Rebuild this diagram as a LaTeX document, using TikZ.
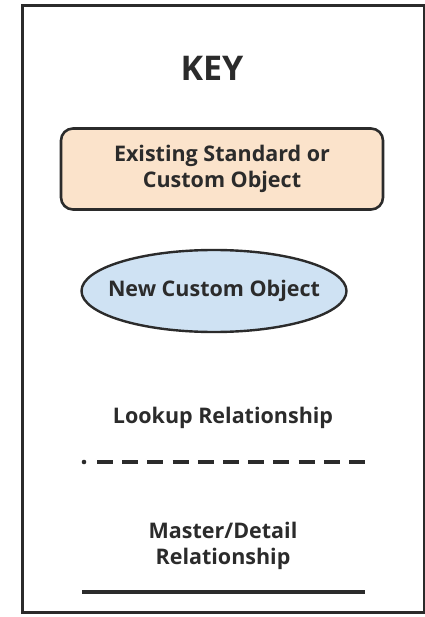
\documentclass[tikz,border=0pt]{standalone}
\usepackage{fontspec}
\setmainfont{Open Sans}
\usetikzlibrary{shapes.geometric}
\definecolor{peach}{HTML}{FBE3CB}
\definecolor{skyblue}{HTML}{CFE2F3}
\definecolor{ink}{HTML}{2B2B2B}

\begin{document}
\begin{tikzpicture}[x=1pt, y=-1pt,
    keytext/.style = {font=\bfseries\fontsize{21.5}{26.5}\selectfont, text=ink, align=center},
    existing/.style = {draw=ink, line width=2.6pt, rounded corners=12pt, fill=peach, minimum width=322pt, minimum height=81pt},
    newobj/.style = {draw=ink, line width=2.4pt, ellipse, fill=skyblue, minimum width=265pt, minimum height=82pt, inner xsep=-18pt, inner ysep=0pt}]
    \useasboundingbox (0,0) rectangle (424,617);
    \draw[ink, line width=3pt] (22,6) rectangle (424.5,612);
    \node[text=ink, font=\bfseries\fontsize{34}{40}\selectfont] (key) at (212,68) {KEY};
    \node[existing, keytext] (std) at (222,169) {Existing Standard or\\Custom Object};
    \node[newobj, keytext] (new) at (214,291) {New Custom Object};
    \node[keytext] (lookup) at (223,418) {Lookup Relationship};
    \coordinate (l1) at (84,462);
    \coordinate (l2) at (97,462);
    \coordinate (l3) at (365,462);
    \fill[ink] (l1) circle (2.3pt);
    \draw[ink, line width=3.6pt, dash pattern=on 16pt off 9.2pt] (l2) -- (l3);
    \node[keytext] (master) at (223,546) {Master/Detail\\Relationship};
    \coordinate (m1) at (82,592);
    \coordinate (m2) at (365,592);
    \draw[ink, line width=3.6pt] (m1) -- (m2);
\end{tikzpicture}
\end{document}
